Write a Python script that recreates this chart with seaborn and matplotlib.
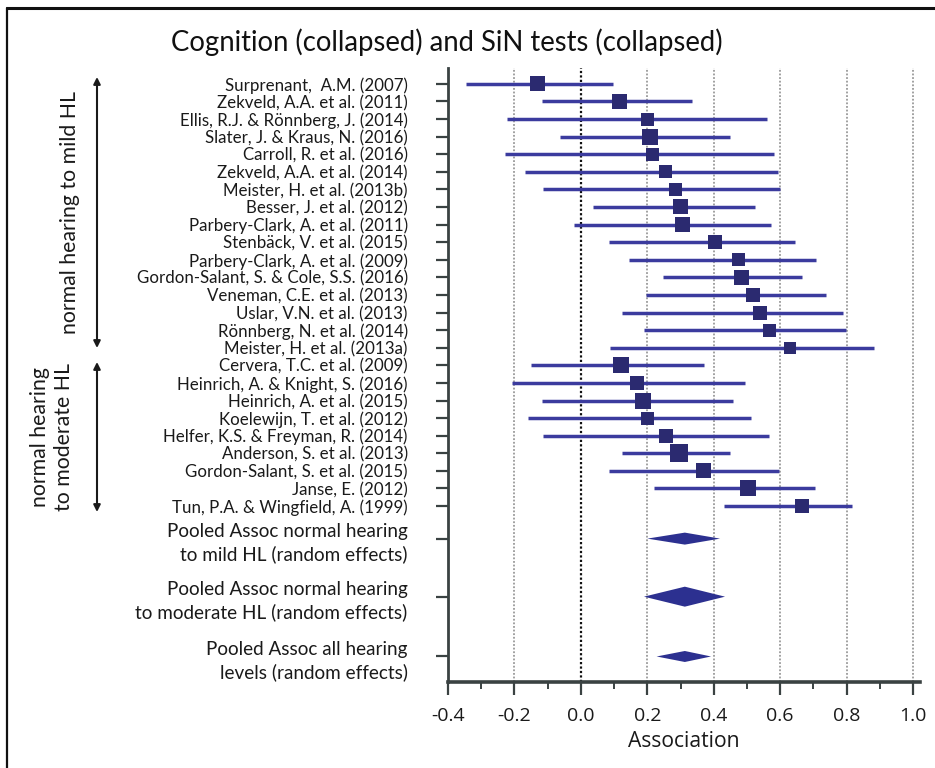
import numpy as np
import pandas as pd
import matplotlib
matplotlib.use("Agg")
import matplotlib.pyplot as plt
from matplotlib.patches import Polygon
from matplotlib.lines import Line2D
from matplotlib.ticker import MultipleLocator
import seaborn as sns

studies = [
    "Surprenant,  A.M. (2007)", "Zekveld, A.A. et al. (2011)", "Ellis, R.J. & Rönnberg, J. (2014)",
    "Slater, J. & Kraus, N. (2016)", "Carroll, R. et al. (2016)", "Zekveld, A.A. et al. (2014)",
    "Meister, H. et al. (2013b)", "Besser, J. et al. (2012)", "Parbery-Clark, A. et al. (2011)",
    "Stenbäck, V. et al. (2015)", "Parbery-Clark, A. et al. (2009)", "Gordon-Salant, S. & Cole, S.S. (2016)",
    "Veneman, C.E. et al. (2013)", "Uslar, V.N. et al. (2013)", "Rönnberg, N. et al. (2014)",
    "Meister, H. et al. (2013a)", "Cervera, T.C. et al. (2009)", "Heinrich, A. & Knight, S. (2016)",
    "Heinrich, A. et al. (2015)", "Koelewijn, T. et al. (2012)", "Helfer, K.S. & Freyman, R. (2014)",
    "Anderson, S. et al. (2013)", "Gordon-Salant, S. et al. (2015)", "Janse, E. (2012)",
    "Tun, P.A. & Wingfield, A. (1999)",
]
est = [-0.130, 0.117, 0.200, 0.209, 0.216, 0.254, 0.285, 0.301, 0.307, 0.405, 0.475, 0.484,
       0.518, 0.538, 0.567, 0.630, 0.120, 0.168, 0.187, 0.200, 0.256, 0.294, 0.370, 0.504, 0.666]
lower = [-0.346, -0.118, -0.222, -0.063, -0.229, -0.169, -0.114, 0.037, -0.020, 0.084, 0.145, 0.246,
         0.196, 0.125, 0.189, 0.087, -0.149, -0.206, -0.118, -0.159, -0.114, 0.123, 0.084, 0.221, 0.430]
upper = [0.098, 0.334, 0.559, 0.449, 0.581, 0.592, 0.601, 0.523, 0.571, 0.645, 0.708, 0.666,
         0.739, 0.790, 0.797, 0.882, 0.372, 0.495, 0.457, 0.511, 0.565, 0.449, 0.596, 0.705, 0.815]
weight = [15, 15, 13, 16, 13, 13, 13, 15, 15, 14, 13, 15, 14, 14, 13, 12, 16, 14, 16, 13, 14, 18, 15, 16, 14]

pooled_labels = ["Pooled Assoc normal hearing\nto mild HL (random effects)",
                 "Pooled Assoc normal hearing\nto moderate HL (random effects)",
                 "Pooled Assoc all hearing\nlevels (random effects)"]
pooled_est = [0.313, 0.313, 0.313]
pooled_lower = [0.200, 0.190, 0.228]
pooled_upper = [0.419, 0.434, 0.392]
pooled_weight = [12, 20, 11]

title = "Cognition (collapsed) and SiN tests (collapsed)"
xticks = [-0.4, -0.2, 0.0, 0.2, 0.4, 0.6, 0.8, 1.0]

sns.set_theme(style="white")
plt.rcParams["font.family"] = ["Lato", "DejaVu Sans"]

W, H = 935, 768
fig = plt.figure(figsize=(W / 100, H / 100), dpi=100)
ax = fig.add_axes([448 / W, 1 - 682 / H, (920 - 448) / W, (682 - 68) / H])

n = len(studies)
ypos = list(range(n))
pooled_y = [25.85, 29.15, 32.55]

line_col = "#3b3b9e"
sq_col = "#2b2a70"
dia_col = "#2c3090"

# grid
for xv in xticks[1:]:
    ax.axvline(xv, color="#9a9a9a" if xv != 0 else "#111111", lw=1.3 if xv != 0 else 1.6,
               linestyle=(0, (1, 1)), zorder=0)

ax.hlines(ypos, lower, upper, color=line_col, lw=2.5, zorder=2)

df = pd.DataFrame({"y": ypos, "x": est, "area": [(w * 0.72) ** 2 for w in weight]})
amin, amax = df["area"].min(), df["area"].max()
sns.scatterplot(data=df, x="x", y="y", size="area", sizes=(amin, amax), size_norm=(amin, amax),
                marker="s", color=sq_col, linewidth=0, legend=False, ax=ax, zorder=3)

# diamonds (height in data units from px)
px_per_unit = 17.6
for yy, lo, e, hi, hpx in zip(pooled_y, pooled_lower, pooled_est, pooled_upper, pooled_weight):
    hh = hpx / 2 / px_per_unit
    ax.add_patch(Polygon([[lo, yy], [e, yy - hh], [hi, yy], [e, yy + hh]], closed=True,
                         facecolor=dia_col, edgecolor="none", zorder=3))

ax.set_xlim(-0.4, 1.021)
ax.set_ylim(34.0, -0.9)
ax.set_yticks(ypos + pooled_y)
ax.set_yticklabels(studies + pooled_labels)
ax.set_xticks(xticks)
ax.set_xticklabels([f"{v:.1f}" for v in xticks])
ax.xaxis.set_minor_locator(MultipleLocator(0.1))

spine_col = "#3a4242"
for s in ["top", "right"]:
    ax.spines[s].set_visible(False)
for s in ["left", "bottom"]:
    ax.spines[s].set_color(spine_col)
ax.spines["left"].set_linewidth(2.0)
ax.spines["bottom"].set_linewidth(2.6)

ax.tick_params(axis="y", which="major", left=True, direction="out", length=9, width=1.6,
               color=spine_col, pad=20, labelsize=12.2, labelcolor="#1a1a1a")
ax.tick_params(axis="x", which="major", bottom=True, direction="out", length=9, width=1.6,
               color=spine_col, pad=9, labelsize=14, labelcolor="#1a1a1a")
ax.tick_params(axis="x", which="minor", bottom=True, direction="out", length=5, width=1.4,
               color=spine_col)
for lab in ax.get_xticklabels():
    lab.set_family(["Open Sans", "DejaVu Sans"])
ax.set_xlabel("Association", fontsize=15.2, color="#1a1a1a", family=["Open Sans", "DejaVu Sans"],
              labelpad=4)
ax.set_ylabel("")
for i, lab in enumerate(ax.get_yticklabels()):
    if i >= n:
        lab.set_fontsize(13.6)
        lab.set_linespacing(1.4)

fig.text(447 / W, 1 - 42 / H, title, ha="center", va="center", fontsize=19.8, color="#111111")

# group annotations
arrow_kw = dict(arrowstyle="<|-|>", color="#1a1a1a", lw=1.5, mutation_scale=10, shrinkA=0, shrinkB=0)
ax.annotate("", xy=(97 / W, 1 - 77 / H), xytext=(97 / W, 1 - 348 / H),
            xycoords="figure fraction", textcoords="figure fraction", arrowprops=arrow_kw)
ax.annotate("", xy=(97 / W, 1 - 362 / H), xytext=(97 / W, 1 - 512 / H),
            xycoords="figure fraction", textcoords="figure fraction", arrowprops=arrow_kw)
fig.text(70 / W, 1 - 212 / H, "normal hearing to mild HL", rotation=90, ha="center", va="center",
         fontsize=15.3, color="#1a1a1a")
fig.text(52 / W, 1 - 437 / H, "normal hearing\nto moderate HL", rotation=90, ha="center",
         va="center", fontsize=15.3, color="#1a1a1a", linespacing=1.25)

# frame
fig.add_artist(Line2D([7 / W, 7 / W], [0, 1 - 8 / H], color="#111111", lw=1.6,
                      transform=fig.transFigure))
fig.add_artist(Line2D([7 / W, 1], [1 - 8 / H, 1 - 8 / H], color="#111111", lw=2.2,
                      transform=fig.transFigure))

fig.savefig("out.png", dpi=100)
